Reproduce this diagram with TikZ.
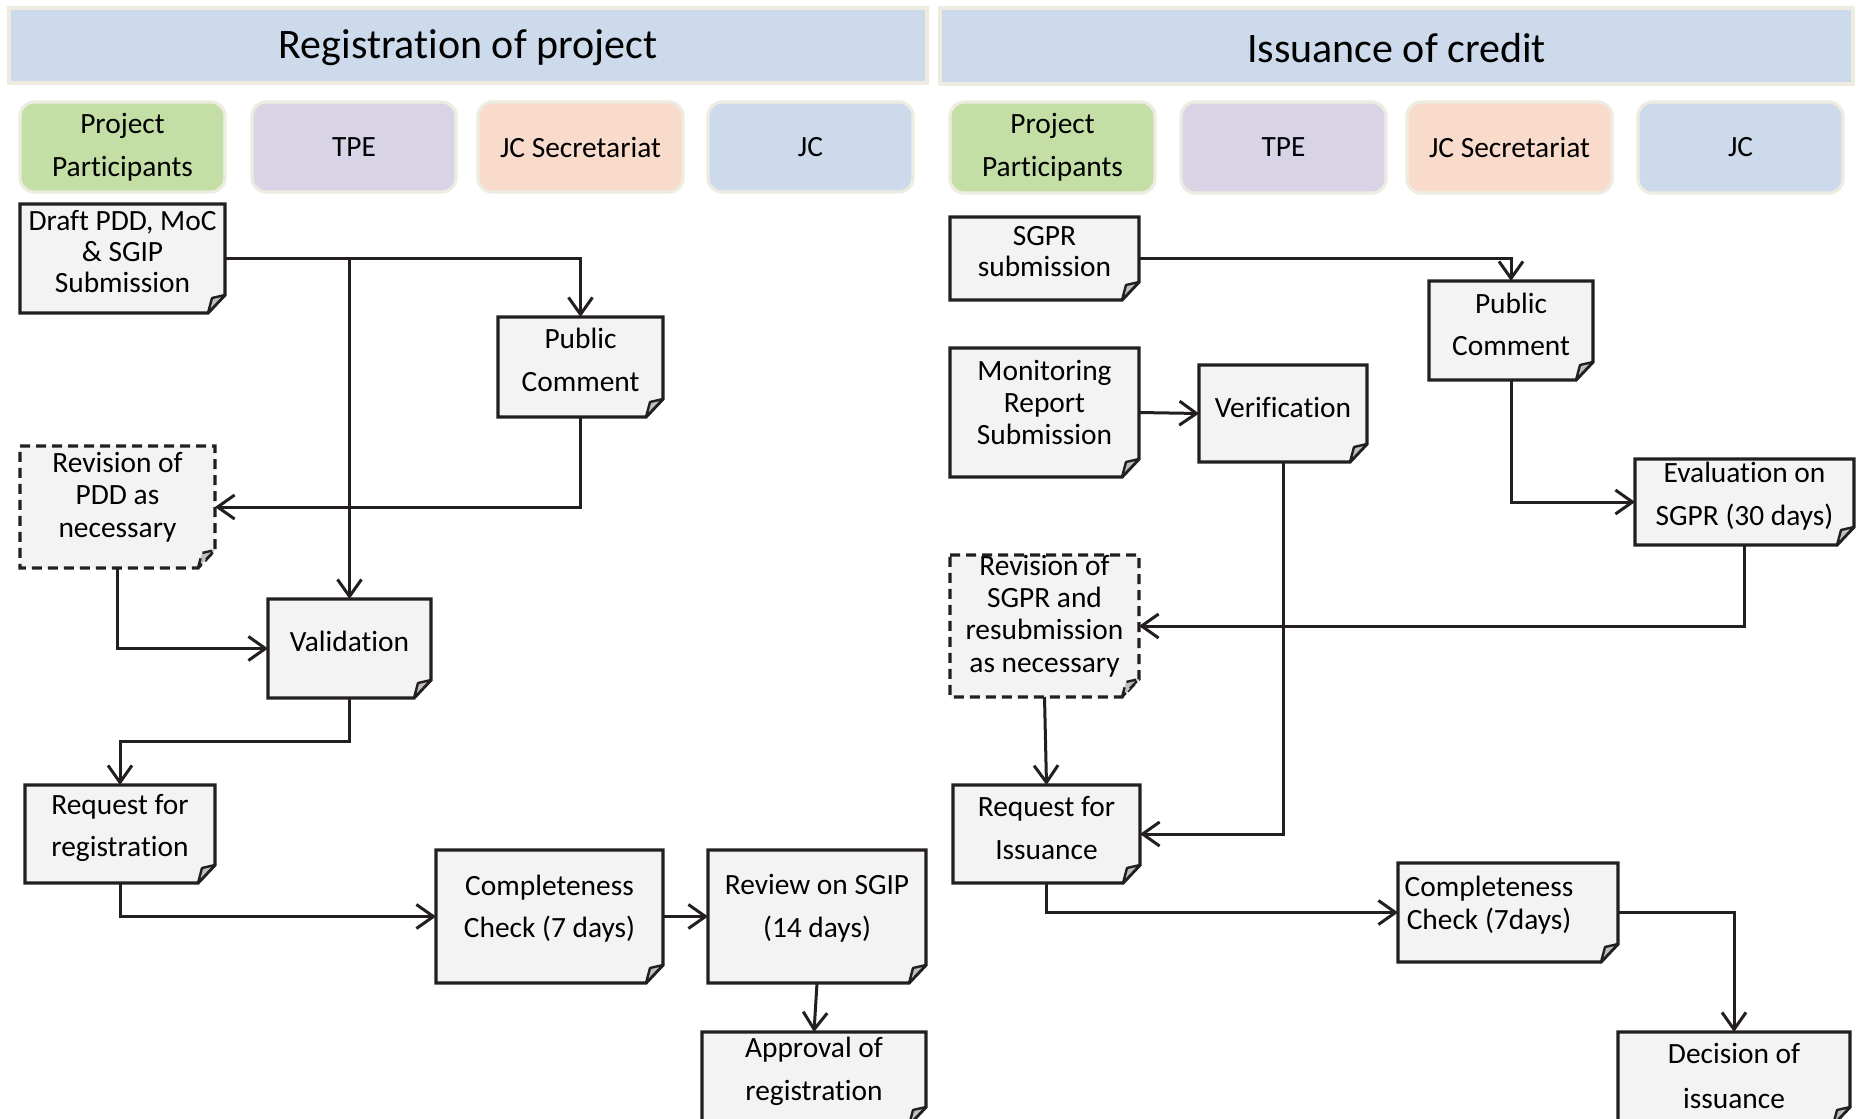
\documentclass[tikz,border=0pt]{standalone}
\usepackage{fontspec}
\setmainfont{Carlito}[RawFeature={-liga;-clig;-calt;-dlig}]
\usetikzlibrary{arrows.meta,fit,calc}
\definecolor{ink}{HTML}{231F20}
\definecolor{bannerblue}{HTML}{CCDAEB}
\definecolor{rim}{HTML}{EEECE1}
\definecolor{ppgreen}{HTML}{C4DFA6}
\definecolor{tpepurple}{HTML}{D8D4E5}
\definecolor{secpeach}{HTML}{F9DBCC}
\definecolor{jcblue}{HTML}{CCDAEB}
\definecolor{notefill}{HTML}{F2F3F2}
\definecolor{foldgray}{HTML}{BFBFBF}
\tikzset{
 banner/.style={draw=rim, fill=bannerblue, line width=1.6pt},
 bannertext/.style={font=\fontsize{21}{25}\selectfont, text=black, inner sep=0pt},
 role/.style={draw=rim, line width=1.6pt, rounded corners=7pt},
 roletext/.style={align=center, font=\fontsize{14.7}{21.3}\selectfont, inner sep=0pt},
 noteshape/.style={draw=ink, fill=notefill, line width=1.6pt, line join=miter},
 foldshape/.style={draw=ink, fill=foldgray, line width=1.2pt, line join=round},
 notetext/.style={align=center, font=\fontsize{14.7}{21.3}\selectfont, inner sep=0pt},
 tight/.style={font=\fontsize{14.7}{15.4}\selectfont},
 mid/.style={font=\fontsize{14.7}{16.2}\selectfont},
 wide/.style={font=\fontsize{14.7}{22.5}\selectfont},
 dashbox/.style={dash pattern=on 5pt off 3pt},
 conn/.style={draw=ink, line width=1.5pt, -{Straight Barb[length=8.5pt,width=12pt]}},
}
% #1 options, #2 name, #3 x1, #4 y1, #5 x2, #6 y2, #7 text, #8 text offset
\newcommand\nbox[8][]{%
 \draw[noteshape,#1] (#3,#4) -- (#5,#4) -- (#5,{#6-18}) -- ({#5-17},#6) -- (#3,#6) -- cycle;
 \filldraw[foldshape,#1] ({#5-17},#6) -- ({#5-13},{#6-15}) -- (#5,{#6-18}) -- cycle;
 \node[fit={(#3,#4) (#5,#6)}, inner sep=0pt, outer sep=0pt] (#2) {};
 \node[notetext,#1] (#2-t) at ($(#2.center)+#8$) {#7};
}
% #1 name, #2 x1, #3 y1, #4 x2, #5 y2, #6 colour, #7 text
\newcommand\rolebox[7]{%
 \node[role, fill=#6, fit={(#2,#3) (#4,#5)}, inner sep=0pt] (#1) {};
 \node[roletext] (#1-t) at (#1.center) {#7};
}
\begin{document}
\begin{tikzpicture}[x=0.5pt,y=-0.5pt]
\clip (0,0) rectangle (1856,1118);
\fill[white] (0,0) rectangle (1856,1118);

% banners
\node[banner, fit={(9,8) (927,83)}, inner sep=0pt] (banL) {};
\node[bannertext] (banL-t) at ([yshift=-1pt]banL.center) {Registration of project};
\node[banner, fit={(940,8) (1853,84)}, inner sep=0pt] (banR) {};
\node[bannertext] (banR-t) at ([yshift=-1pt]banR.center) {Issuance of credit};

% role boxes
\rolebox{ppL}{20}{102}{225}{192}{ppgreen}{Project\\Participants}
\rolebox{tpeL}{252}{102}{456}{192}{tpepurple}{TPE}
\rolebox{secL}{478}{102}{683}{192}{secpeach}{JC Secretariat}
\rolebox{jcL}{708}{102}{913}{192}{jcblue}{JC}
\rolebox{ppR}{950}{102}{1155}{193}{ppgreen}{Project\\Participants}
\rolebox{tpeR}{1181}{102}{1386}{193}{tpepurple}{TPE}
\rolebox{secR}{1407}{102}{1612}{193}{secpeach}{JC Secretariat}
\rolebox{jcR}{1638}{102}{1843}{193}{jcblue}{JC}

% left notes
\nbox[tight]{draft}{20}{204}{225}{313}{Draft PDD, MoC\\\& SGIP\\Submission}{(0,-7)}
\nbox{pubL}{498}{317}{663}{417}{Public\\Comment}{(0,-7)}
\nbox[mid,dashbox]{revP}{20}{446}{215}{568}{Revision of\\PDD as\\necessary}{(0,-10)}
\nbox{val}{268}{599}{431}{698}{Validation}{(0,-7)}
\nbox{reqR}{25}{785}{215}{883}{Request for\\registration}{(0,-6)}
\nbox{compL}{436}{850}{663}{983}{Completeness\\Check (7 days)}{(0,-8)}
\nbox{rev}{708}{850}{926}{983}{Review on SGIP\\(14 days)}{(0,-8)}
\nbox{appr}{702}{1032}{926}{1125}{Approval of\\registration}{(0,-7)}

% right notes
\nbox[tight]{sgpr}{950}{217}{1139}{300}{SGPR\\submission}{(0,-7)}
\nbox{pubR}{1429}{281}{1593}{380}{Public\\Comment}{(0,-6)}
\nbox[mid]{mon}{950}{348}{1139}{477}{Monitoring\\Report\\Submission}{(0,-10)}
\nbox{ver}{1199}{365}{1367}{462}{Verification}{(0,-6)}
\nbox{eval}{1635}{459}{1854}{545}{Evaluation on\\SGPR (30 days)}{(0,-6)}
\nbox[mid,dashbox]{revS}{950}{555}{1139}{697}{Revision of\\SGPR and\\resubmission\\as necessary}{(0,-10)}
\nbox{reqI}{953}{785}{1140}{883}{Request for\\Issuance}{(0,-6)}
\nbox[mid]{compR}{1398}{863}{1618}{962}{Completeness\\Check (7days)}{(-19,-7.5)}
\nbox[wide]{dec}{1618}{1032}{1850}{1125}{Decision of\\issuance}{(0,-3)}

% left connectors
\coordinate (jL) at (draft.east -| val.north);
\draw[conn] (draft.east) -| (pubL.north);
\draw[conn] (jL) -- (val.north);
\draw[conn] (pubL.south) |- (revP.east);
\draw[conn] (revP.south) |- (val.west);
\draw[conn] (val.south) -- ++(0,43) -| (reqR.north);
\draw[conn] (reqR.south) |- (compL.west);
\draw[conn] (compL.east) -- (rev.west);
\draw[conn] (rev.south) -- (appr.north);

% right connectors
\draw[conn] (sgpr.east) -| (pubR.north);
\draw[conn] (mon.east) -- (ver.west);
\draw[conn] (pubR.south) |- (eval.west);
\draw[conn] (eval.south) |- (revS.east);
\draw[conn] (ver.south) |- (reqI.east);
\draw[conn] (revS.south) -- (reqI.north);
\draw[conn] (reqI.south) |- (compR.west);
\draw[conn] (compR.east) -| (dec.north);
\end{tikzpicture}
\end{document}
